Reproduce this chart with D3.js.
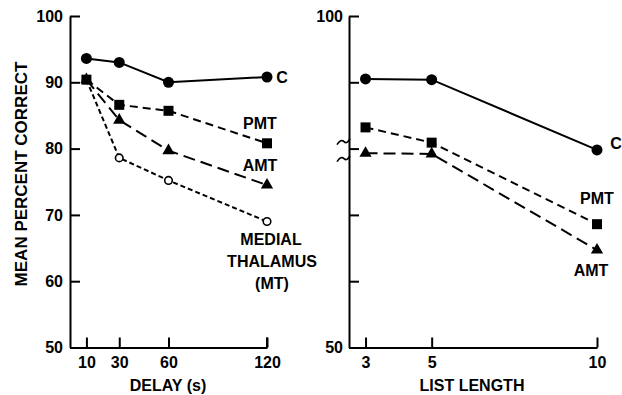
<!DOCTYPE html>
<html>
<head>
<meta charset="utf-8">
<script src="https://cdn.jsdelivr.net/npm/d3@7"></script>
<style>
  body { margin: 0; background: #fff; }
  text { font-family: "Liberation Sans", Arial, sans-serif; font-weight: bold; fill: #000; }
</style>
</head>
<body>
<script>
// data
const delays = [10, 30, 60, 120];
const delayC   = [93.6, 93.0, 90.0, 90.8];
const delayPMT = [90.4, 86.6, 85.7, 80.8];
const delayAMT = [90.4, 84.3, 79.7, 74.5];
const delayMT  = [90.4, 78.6, 75.2, 69.0];

const listLengths = [3, 5, 10];
const listC   = [90.5, 90.4, 79.8];
const listPMT = [83.2, 80.9, 68.6];
const listAMT = [79.3, 79.2, 64.7];

const yTicks = [50, 60, 70, 80, 90, 100];

const svg = d3.select("body").append("svg")
  .attr("width", 622).attr("height", 395);

const y = d3.scaleLinear().domain([50, 100]).range([347.5, 16]);
const xL = d3.scaleLinear().domain([0, 120]).range([70, 267]);
const xR = d3.scaleLinear().domain([2.5, 10]).range([349, 597]);

function styleAxis(g) {
  g.selectAll("path, line").attr("stroke", "#000").attr("stroke-width", 2);
  g.selectAll("text").style("font-size", "16px").attr("fill", "#000");
}

// left panel axes
svg.append("g").attr("transform", "translate(70,0)")
  .call(d3.axisLeft(y).tickValues(yTicks).tickSize(-10).tickSizeOuter(0).tickPadding(7))
  .call(styleAxis);
svg.append("g").attr("transform", `translate(0,${y(50)})`)
  .call(d3.axisBottom(xL).tickValues(delays).tickSize(-10).tickSizeOuter(0).tickPadding(9))
  .call(styleAxis);

// right panel axes
svg.append("g").attr("transform", "translate(349,0)")
  .call(d3.axisLeft(y).tickValues(yTicks).tickSize(-10).tickSizeOuter(0).tickPadding(6)
    .tickFormat(d => (d === 100 || d === 50) ? d : ""))
  .call(styleAxis);
svg.append("g").attr("transform", `translate(0,${y(50)})`)
  .call(d3.axisBottom(xR).tickValues(listLengths).tickSize(-10).tickSizeOuter(0).tickPadding(9))
  .call(styleAxis);

// end ticks on the right of each x axis
svg.append("line").attr("x1", xL(120)).attr("x2", xL(120)).attr("y1", y(50)).attr("y2", y(50) - 10)
  .attr("stroke", "#000").attr("stroke-width", 2);

// axis break marks on right y axis
[y(80) - 7, y(80) + 10].forEach(yy => {
  svg.append("path")
    .attr("d", `M337,${yy + 3} q4,-6 7,-3 q3,3 6,-3`)
    .attr("fill", "none").attr("stroke", "#000").attr("stroke-width", 1.6);
});

// axis titles
svg.append("text").attr("transform", "translate(27,174) rotate(-90)")
  .attr("text-anchor", "middle").style("font-size", "17px").text("MEAN PERCENT CORRECT");
svg.append("text").attr("x", 168).attr("y", 391).attr("text-anchor", "middle")
  .style("font-size", "16px").text("DELAY (s)");
svg.append("text").attr("x", 472).attr("y", 391).attr("text-anchor", "middle")
  .style("font-size", "16px").text("LIST LENGTH");

function drawSeries(xs, vals, xScale, dash, marker) {
  const pts = xs.map((d, i) => [xScale(d), y(vals[i])]);
  svg.append("path").datum(pts)
    .attr("d", d3.line())
    .attr("fill", "none").attr("stroke", "#000").attr("stroke-width", 2)
    .attr("stroke-dasharray", dash);
  const sym = {
    circle: d3.symbol().type(d3.symbolCircle).size(95),
    open: d3.symbol().type(d3.symbolCircle).size(45),
    square: d3.symbol().type(d3.symbolSquare).size(100),
    triangle: d3.symbol().type(d3.symbolTriangle).size(65)
  }[marker];
  svg.append("g").selectAll("path").data(pts).join("path")
    .attr("transform", d => `translate(${d[0]},${d[1]})`)
    .attr("d", sym)
    .attr("fill", marker === "open" ? "#fff" : "#000")
    .attr("stroke", "#000").attr("stroke-width", marker === "open" ? 1.6 : 0);
}

// left panel series
drawSeries(delays, delayMT, xL, "5,3", "open");
drawSeries(delays, delayAMT, xL, "12,6", "triangle");
drawSeries(delays, delayPMT, xL, "8,5", "square");
drawSeries(delays, delayC, xL, null, "circle");

// right panel series
drawSeries(listLengths, listAMT, xR, "12,6", "triangle");
drawSeries(listLengths, listPMT, xR, "8,5", "square");
drawSeries(listLengths, listC, xR, null, "circle");

// series labels
function label(x, yy, txt) {
  svg.append("text").attr("x", x).attr("y", yy).attr("text-anchor", "middle")
    .style("font-size", "16px").text(txt);
}
label(282, 83, "C");
label(260, 129, "PMT");
label(260, 171, "AMT");
label(271, 245, "MEDIAL");
label(272, 267, "THALAMUS");
label(272, 289, "(MT)");
label(616, 149, "C");
label(597, 204, "PMT");
label(591, 276, "AMT");
</script>
</body>
</html>
